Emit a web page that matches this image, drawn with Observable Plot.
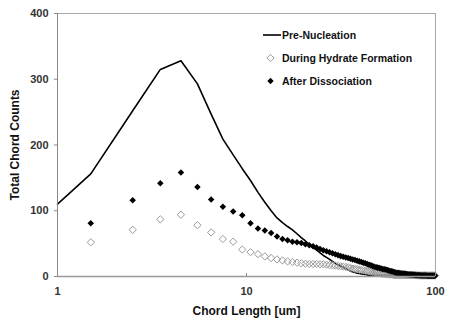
<!DOCTYPE html>
<html><head><meta charset="utf-8">
<script src="https://cdn.jsdelivr.net/npm/d3@7"></script>
<script src="https://cdn.jsdelivr.net/npm/@observablehq/plot@0.6"></script>
<style>
body{margin:0;background:#fff;font-family:"Liberation Sans",Arial,sans-serif;}
#wrap{position:relative;width:458px;height:321px;}
#legend{position:absolute;left:262px;top:24px;font-weight:bold;font-size:10.5px;color:#111;}
.row{display:flex;align-items:center;height:22.7px;white-space:nowrap;}
.row svg{width:20px;height:12px;display:block;}
g[aria-label="x-axis tick label"] text, g[aria-label="y-axis tick label"] text{font-weight:bold;fill:#333;}
g[aria-label="x-axis label"] text, g[aria-label="y-axis label"] text{font-weight:bold;font-size:12px;fill:#111;}
</style></head><body><div id="wrap"></div>
<script>
// Chord length bins (um)
const chordBins = [1.5,2.5,3.5,4.5,5.5,6.5,7.5,8.5,9.5,10.5,11.5,12.5,13.5,14.5,15.5,16.5,17.5,18.5,19.5,20.5,21.5,22.5,23.5,24.5,25.5,26.5,27.5,28.5,29.5,30.5,31.5,32.5,33.5,34.5,35.5,36.5,37.5,38.5,39.5,40.5,41.5,42.5,43.5,44.5,45.5,46.5,47.5,48.5,49.5,50.5,51.5,52.5,53.5,54.5,55.5,56.5,57.5,58.5,59.5,60.5,61.5,62.5,63.5,64.5,65.5,66.5,67.5,68.5,69.5,70.5,71.5,72.5,73.5,74.5,75.5,76.5,77.5,78.5,79.5,80.5,81.5,82.5,83.5,84.5,85.5,86.5,87.5,88.5,89.5,90.5,91.5,92.5,93.5,94.5,95.5,96.5,97.5,98.5,99.5];
// Pre-Nucleation line starts at the axis
const preStartX = 1;
const preStartValue = 110;
const preNucleation = [156,252,315,328,293,247,209,185,164,146,
  128,113,100,89,82,76,71,65,59,54,
  49,44,40,36,32,29,26,23,20,18,
  16,14,12,10,8.5,7,6,5,4.5,4,
  3.5,3,2.5,2,2,2,2,2,2,2,
  2,2,2,2,2,2,2,2,2,1.5,
  1.5,1.5,1.5,1.5,1.5,1.5,1.5,1.5,1.5,1.5,
  1.5,1.5,1.5,1.5,1.5,1.5,1.5,1.5,1.5,1.5,
  1.5,1.5,1.5,1.5,1.5,1.5,1.5,1.5,1.5,1.5,
  1.5,1.5,1.5,1.5,1.5,1.5,1.5,1.5,1.5];
const duringHydrate = [52,71,87,94,78,67,57,53,41,37,
  34,30.5,28,26,24.5,23,22,21,20,19.5,
  19,19,19,18.5,18.5,18,17.5,17,16.5,16,
  15.5,15,14.5,14,13,12,11.5,11,10.5,10,
  9.5,9,8.5,8,7.5,7,6.5,6,5.5,5,
  4.5,4,4,3.5,3.5,3,3,3,2.5,2,
  2,2,2,2,2,2,2,2,2,2,
  2,2,2,2,2,2,2,2,2,1.5,
  1.5,1.5,1.5,1.5,1.5,1.5,1.5,1.5,1.5,1.5,
  1.5,1.5,1.5,1.5,1.5,1.5,1.5,1.5,1.5];
const afterDissociation = [81,116,142,158,136,117,106,99,93,81,
  73,70,66,61,57,55,53,52,51,49,
  47.5,46,44,42,40,38.5,37,35.5,34,32.5,
  31,30,29,28,27,26,25,24,23,22,
  21,20,19,18,17,16,15,14,13.5,13,
  12,11.5,11,10.5,10,9,8.5,8,7.5,6.5,
  6,5.5,5.5,5,5,4.5,4.5,4,4,3.5,
  3.5,3,3,3,2.5,2.5,2.5,2,2,2,
  2,2,1.5,1.5,1.5,1.5,1.5,1.5,1.5,1,
  1,1,1,1,1,1,1,1,1];
const xTicks = [1, 10, 100];
const yTicks = [0, 100, 200, 300, 400];
const seriesNames = ["Pre-Nucleation", "During Hydrate Formation", "After Dissociation"];
const xTitle = "Chord Length [um]";
const yTitle = "Total Chord Counts";

const preRows = [{x: preStartX, y: preStartValue}, ...chordBins.map((x, i) => ({x, y: preNucleation[i]}))];
const duringRows = chordBins.map((x, i) => ({x, y: duringHydrate[i]}));
const afterRows = chordBins.map((x, i) => ({x, y: afterDissociation[i]}));

// Excel-style diamond (rotated square)
const squareDiamond = {
  draw(ctx, size) {
    const h = Math.sqrt(size / 2);
    ctx.moveTo(0, -h); ctx.lineTo(h, 0); ctx.lineTo(0, h); ctx.lineTo(-h, 0); ctx.closePath();
  }
};

const chart = Plot.plot({
  width: 458, height: 321,
  marginLeft: 57, marginRight: 23, marginTop: 13, marginBottom: 45,
  style: {fontFamily: "'Liberation Sans', Arial, sans-serif", fontSize: "11px", background: "#fff", color: "#333"},
  x: {type: "log", domain: [1, 100]},
  y: {domain: [0, 400]},
  marks: [
    Plot.ruleY([400], {stroke: "#a8a8a8"}),
    Plot.ruleX([100], {stroke: "#a8a8a8"}),
    Plot.line(preRows, {x: "x", y: "y", stroke: "#000", strokeWidth: 1.6}),
    Plot.dot(duringRows, {x: "x", y: "y", symbol: squareDiamond, r: 2.9, stroke: "#9a9a9a", fill: "none", strokeWidth: 1}),
    Plot.dot(afterRows, {x: "x", y: "y", symbol: squareDiamond, r: 2.6, fill: "#000", stroke: "none"}),
    Plot.ruleX([1], {stroke: "#888"}),
    Plot.ruleY([0], {stroke: "#999", strokeWidth: 1.5}),
    Plot.axisX({ticks: xTicks, tickFormat: d => String(d), tickSize: -3, tickPadding: 14, stroke: "#888",
      label: xTitle, labelAnchor: "center", labelArrow: "none", labelOffset: 38}),
    Plot.axisY({ticks: yTicks, tickFormat: d => String(d), tickSize: 3, tickPadding: 6, stroke: "#888",
      label: yTitle, labelAnchor: "center", labelArrow: "none", labelOffset: 47})
  ]
});

const wrap = document.getElementById("wrap");
wrap.appendChild(chart);

// Legend overlay
const legend = document.createElement("div");
legend.id = "legend";
const samples = [
  '<svg viewBox="0 0 20 12"><line x1="1" y1="6" x2="19" y2="6" stroke="#000" stroke-width="1.6"/></svg>',
  '<svg viewBox="0 0 20 12"><path d="M8.5,2.4L12.1,6L8.5,9.6L4.9,6Z" fill="none" stroke="#9a9a9a" stroke-width="1"/></svg>',
  '<svg viewBox="0 0 20 12"><path d="M8.5,2.8L11.7,6L8.5,9.2L5.3,6Z" fill="#000"/></svg>'
];
seriesNames.forEach((name, i) => {
  const row = document.createElement("div");
  row.className = "row";
  row.innerHTML = samples[i] + "<span>" + name + "</span>";
  legend.appendChild(row);
});
wrap.appendChild(legend);
</script>
</body></html>
